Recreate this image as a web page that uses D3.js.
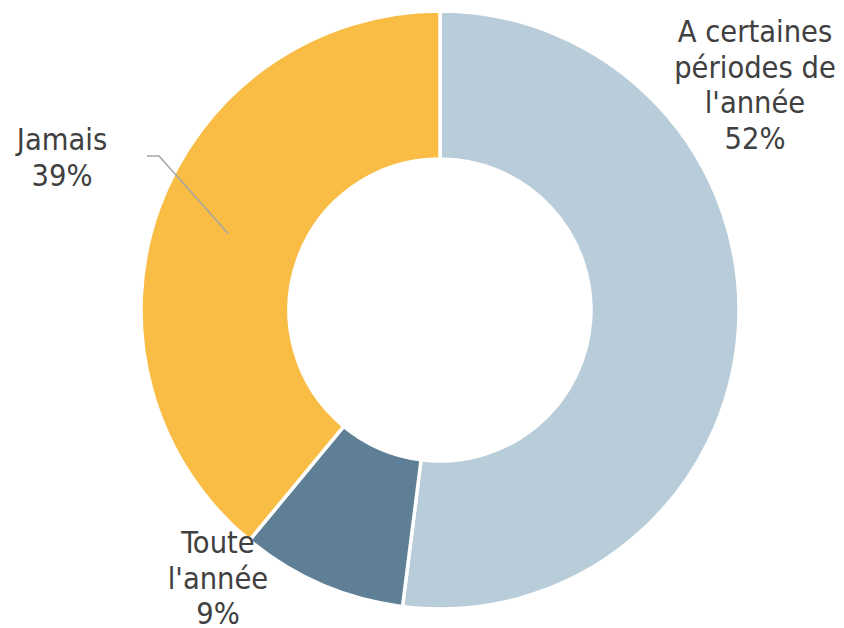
<!DOCTYPE html>
<html><head><meta charset="utf-8">
<script src="https://cdn.jsdelivr.net/npm/d3@7"></script>
<style>html,body{margin:0;padding:0;background:#fff;}</style>
</head><body>
<svg id="chart" width="844" height="628"></svg>
<script>
const categories = ["A certaines périodes de l'année", "Toute l'année", "Jamais"];
const values = [52, 9, 39];
const colors = ["#B8CCD9", "#5E7F96", "#F9BC45"];
const labelLines = [["A certaines", "périodes de", "l'année", "52%"], ["Toute", "l'année", "9%"], ["Jamais", "39%"]];

const W = 844, H = 628, cx = 440, cy = 310, rO = 299, rI = 151;
const svg = d3.select("#chart");
const g = svg.append("g").attr("transform", `translate(${cx},${cy})`);
const data = categories.map((c, i) => ({ cat: c, value: values[i], color: colors[i], lines: labelLines[i] }));
const pie = d3.pie().value(d => d.value).sort(null);
const arc = d3.arc().innerRadius(rI).outerRadius(rO);
const arcs = pie(data);
g.selectAll("path").data(arcs).join("path")
  .attr("d", arc).attr("fill", d => d.data.color)
  .attr("stroke", "#fff").attr("stroke-width", 3.5).attr("stroke-linejoin", "miter");

// label layout (positions only)
const labelPos = [{ x: 755, y: 42 }, { x: 218, y: 553 }, { x: 62, y: 150 }];
const lh = 35.5;
const font = "'DejaVu Sans Condensed', 'DejaVu Sans', sans-serif";
data.forEach((d, i) => {
  const t = svg.append("text").attr("text-anchor", "middle")
    .attr("font-family", font).attr("font-size", 30.5).attr("fill", "#404040");
  d.lines.forEach((ln, j) => {
    t.append("tspan").attr("x", labelPos[i].x).attr("y", labelPos[i].y + j * lh).text(ln);
  });
});
// leader line for "Jamais"
const jam = arcs[2];
const c = arc.centroid(jam);
svg.append("polyline")
  .attr("points", `147,156 159,156 ${cx + c[0]},${cy + c[1]}`)
  .attr("fill", "none").attr("stroke", "#A6A6A6").attr("stroke-width", 1.5);
</script>
</body></html>
